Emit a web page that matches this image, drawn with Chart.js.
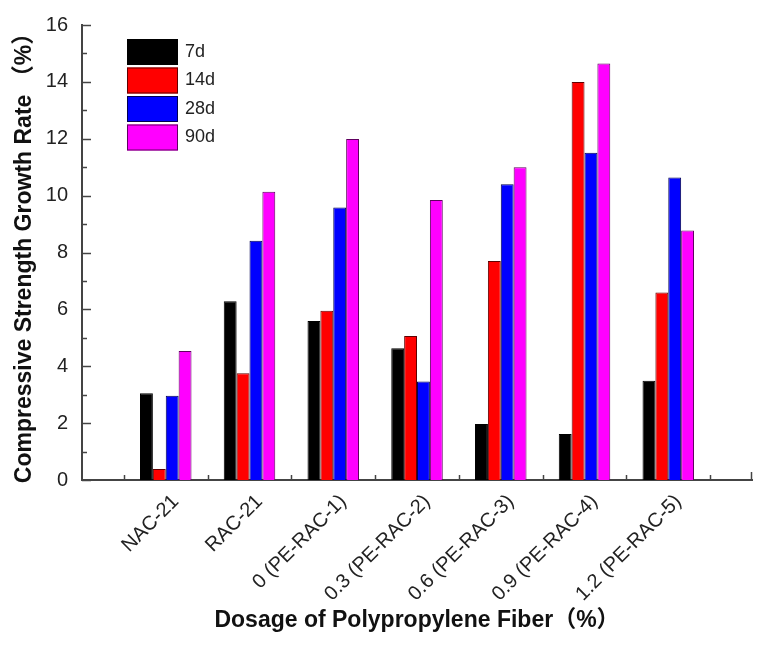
<!DOCTYPE html>
<html><head><meta charset="utf-8">
<script src="https://cdn.jsdelivr.net/npm/chart.js@4/dist/chart.umd.min.js"></script>
<style>html,body{margin:0;padding:0;background:#fff}</style>
</head><body>
<canvas id="c" width="771" height="646"></canvas>
<script>
// ---- data ----
const categories = ['NAC-21','RAC-21','0 (PE-RAC-1)','0.3 (PE-RAC-2)','0.6 (PE-RAC-3)','0.9 (PE-RAC-4)','1.2 (PE-RAC-5)'];
const seriesNames = ['7d','14d','28d','90d'];
const d7  = [3.05, 6.29, 5.59, 4.63, 1.97, 1.62, 3.49];
const d14 = [0.39, 3.75, 5.95, 5.06, 7.70, 14.00, 6.59];
const d28 = [2.96, 8.41, 9.58, 3.46, 10.40, 11.51, 10.64];
const d90 = [4.54, 10.14, 11.99, 9.85, 11.00, 14.65, 8.77];
const yTickValues = [0, 2, 4, 6, 8, 10, 12, 14, 16];
const seriesColors = ['#000000', '#ff0000', '#0000ff', '#ff00ff'];
const seriesBorders = ['#000000', '#600000', '#000050', '#600060'];

const FONT = "'Liberation Sans', Arial, 'Noto Sans CJK SC', sans-serif";
const labels = [''].concat(categories, ['']);
const pad = arr => [null].concat(arr, [null]);
const allSeries = [d7, d14, d28, d90];

const minorTicks = {
  id: 'minorTicks',
  afterDraw(chart) {
    const ctx = chart.ctx, x = chart.scales.x, y = chart.scales.y;
    ctx.save();
    ctx.strokeStyle = '#444';
    ctx.lineWidth = 1.5;
    for (let v = y.min; v <= y.max; v++) {
      const py = Math.round(y.getPixelForValue(v)) + 0.5;
      const len = (v % 2 === 0) ? 9 : 5;
      ctx.beginPath(); ctx.moveTo(x.left, py); ctx.lineTo(x.left + len, py); ctx.stroke();
    }
    for (let i = 0; i < labels.length - 1; i++) {
      const px = Math.round(x.getPixelForValue(i + 0.5)) + 0.5;
      ctx.beginPath(); ctx.moveTo(px, y.bottom); ctx.lineTo(px, y.bottom - 5); ctx.stroke();
    }
    const pe = Math.round(x.getPixelForValue(labels.length - 1)) - 0.5;
    ctx.beginPath(); ctx.moveTo(pe, y.bottom); ctx.lineTo(pe, y.bottom - 8); ctx.stroke();
    ctx.restore();
  }
};

const boxLegend = {
  id: 'boxLegend',
  afterDraw(chart) {
    const ctx = chart.ctx;
    ctx.save();
    ctx.font = '18px ' + FONT;
    ctx.textBaseline = 'middle';
    chart.data.datasets.forEach((ds, i) => {
      const top = 39 + i * 28.5;
      ctx.fillStyle = ds.backgroundColor;
      ctx.fillRect(127, top, 51, 26);
      ctx.strokeStyle = ds.borderColor;
      ctx.lineWidth = 1;
      ctx.strokeRect(127.5, top + 0.5, 50, 25);
      ctx.fillStyle = '#222';
      ctx.fillText(ds.label, 185, top + 13);
    });
    ctx.restore();
  }
};

new Chart(document.getElementById('c'), {
  type: 'bar',
  data: {
    labels: labels,
    datasets: allSeries.map((s, i) => ({
      label: seriesNames[i],
      data: pad(s),
      backgroundColor: seriesColors[i],
      borderColor: seriesBorders[i],
      borderWidth: 1,
      barPercentage: 1.0,
      categoryPercentage: 0.615
    }))
  },
  options: {
    responsive: false,
    animation: false,
    devicePixelRatio: 1,
    layout: { padding: { top: 25, right: 13, left: 0, bottom: 0 } },
    plugins: { legend: { display: false }, tooltip: { enabled: false } },
    scales: {
      x: {
        type: 'category',
        offset: false,
        grid: { display: false },
        border: { display: true, color: '#444', width: 2 },
        ticks: {
          autoSkip: false, minRotation: 45, maxRotation: 45,
          color: '#222', padding: 2, labelOffset: 10,
          font: { size: 20, family: FONT }
        },
        title: {
          display: true, text: 'Dosage of Polypropylene Fiber（%）', color: '#111',
          font: { size: 23, weight: 'bold', family: FONT },
          padding: { top: 0, bottom: 12 }
        },
        afterFit: s => { s.height = 166; }
      },
      y: {
        min: 0, max: 16,
        afterBuildTicks: s => { s.ticks = yTickValues.map(v => ({ value: v })); },
        grid: { display: false },
        border: { display: true, color: '#444', width: 2 },
        ticks: { color: '#222', padding: 6, font: { size: 20, family: FONT } },
        title: {
          display: true, text: 'Compressive Strength Growth Rate （%）', color: '#111',
          font: { size: 23, weight: 'bold', family: FONT },
          padding: { top: 11, bottom: 0 }
        },
        afterFit: s => { s.width = 82; }
      }
    }
  },
  plugins: [minorTicks, boxLegend]
});
</script>
</body></html>
